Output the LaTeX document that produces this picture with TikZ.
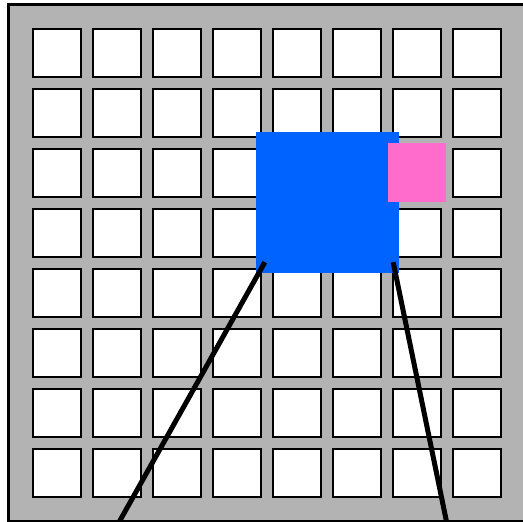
\documentclass[tikz,border=0pt]{standalone}
\usepackage{tikz}
\usetikzlibrary{positioning,calc}
\definecolor{gridgray}{HTML}{B3B3B3}
\definecolor{patchblue}{HTML}{0062FF}
\definecolor{patchpink}{HTML}{FF6CCC}

\begin{document}
\begin{tikzpicture}[
  x=1pt, y=-1pt,
  board/.style={draw, line width=3pt, fill=gridgray},
  cell/.style={draw, line width=2pt, fill=white, minimum size=48pt, inner sep=0pt},
  patch/.style={fill=patchblue, minimum width=143pt, minimum height=141pt, inner sep=0pt},
  kernel/.style={fill=patchpink, minimum width=58pt, minimum height=59pt, inner sep=0pt},
  ray/.style={line width=5pt}
]
  \useasboundingbox (0,0) rectangle (523,522);
  \begin{scope}
    \clip (0,0) rectangle (523,522);
    \draw[board] (8,4) rectangle (526,521);
    \foreach \i in {0,...,7}
      \foreach \j in {0,...,7}
        \node[cell] (c\i\j) at ({57+60*\i},{52.5+60*\j}) {};
    \node[patch] (window) at (327.5,202.5) {};
    \node[kernel] (filter) at (417,172.5) {};
    \coordinate (footL) at (118,524);
    \coordinate (footR) at (447,524);
    \draw[ray] ($(window.south west)+(9,-11)$) -- (footL);
    \draw[ray] ($(window.south east)+(-6,-11)$) -- (footR);
  \end{scope}
\end{tikzpicture}
\end{document}
